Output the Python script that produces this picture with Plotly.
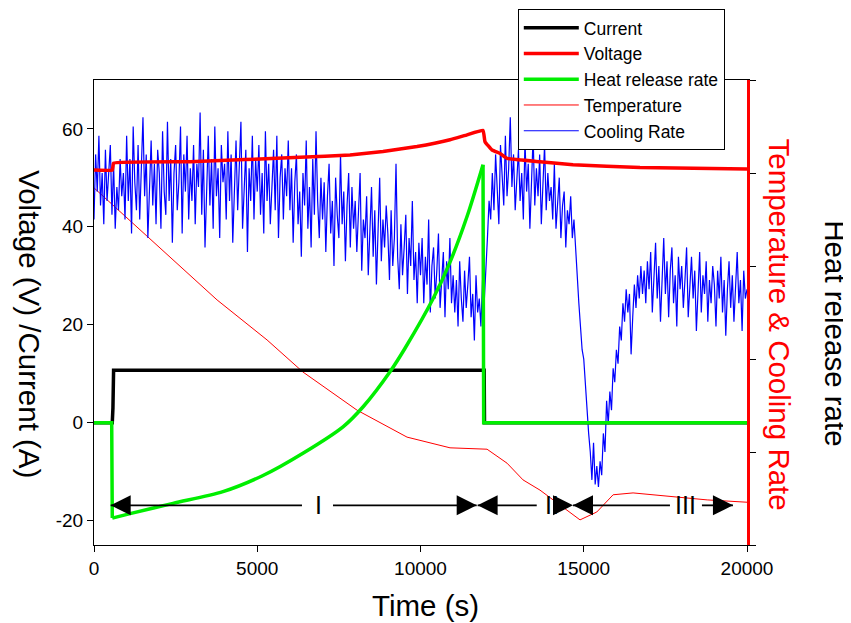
import plotly.graph_objects as go

# time axis (s)
t_current = [0, 560, 580, 600, 11950, 11960, 20000]
current = [0, 0, 3, 10.7, 10.7, 0, 0]

t_voltage = [0, 560, 600, 2940, 6310, 7841, 8852, 9893, 10904, 11425, 11915,
             11976, 12190, 12436, 12650, 13660, 14672, 16724, 20000]
voltage = [51.6, 51.6, 53.0, 53.3, 54.2, 54.7, 55.4, 56.4, 57.8, 58.8, 59.7,
           57.4, 55.7, 55.0, 54.0, 53.3, 52.7, 52.1, 51.8]

# heat release rate: rising branch while current flows, flat (zero) otherwise
t_heat = [560, 1103, 2420, 3950, 5176, 6412, 7636, 8250, 9066, 9526,
          10384, 10904, 11425, 11915]
heat = [-19.5, -18.6, -16.5, -14.1, -10.8, -6.2, -0.8, 3.3, 10.4, 15.2,
        25.3, 32.8, 42.1, 52.7]
t_heat_off = [0, 542, 560, None, 11915, 11935, 20000]
heat_off = [0, 0, -19.5, None, 52.7, 0, 0]

t_temp = [0, 1195, 2420, 3770, 5300, 6400, 8055, 9587, 10904, 12038, 12650,
          13140, 13660, 14490, 14886, 15400, 15900, 16510, 17730, 18780, 20000]
temperature = [76.8, 69.2, 61.3, 52.7, 44.1, 37.2, 29.0, 23.2, 20.9, 20.6, 17.6,
               14.0, 11.8, 7.5, 5.4, 7.1, 10.8, 11.2, 10.4, 9.7, 9.2]

t_cool = list(range(0, 20001, 50))
cooling = [
    70, 84, 76, 88, 73, 80, 69, 85, 74, 79, 86, 71, 82, 68, 77, 72, 83, 75, 80, 70,
    88, 74, 83, 67, 90, 78, 72, 86, 70, 81, 92, 75, 84, 66, 79, 87, 73, 82, 69, 85,
    80, 68, 89, 76, 71, 91, 74, 83, 65, 80, 86, 72, 78, 90, 67, 84, 76, 88, 70, 81,
    74, 86, 69, 82, 77, 93, 71, 85, 64, 79, 88, 73, 83, 68, 90, 75, 81, 66, 86, 78,
    82, 70, 89, 74, 84, 65, 79, 87, 72, 80, 91, 68, 77, 85, 63, 81, 74, 88, 70, 83,
    76, 86, 71, 80, 67, 89, 74, 82, 69, 78, 85, 72, 88, 66, 79, 84, 70, 81, 75, 87,
    72, 81, 65, 78, 84, 69, 76, 62, 80, 73, 87, 68, 77, 64, 83, 71, 89, 74, 66, 79,
    70, 78, 63, 75, 82, 67, 74, 60, 79, 71, 66, 84, 69, 76, 61, 73, 80, 64, 77, 68,
    74, 63, 71, 80, 59, 70, 66, 75, 58, 69, 77, 62, 72, 56, 67, 79, 61, 70, 64, 73,
    67, 57, 72, 60, 66, 82, 62, 55, 69, 58, 64, 71, 54, 66, 60, 74, 57, 63, 52, 65,
    58, 66, 52, 62, 56, 70, 50, 60, 64, 53, 59, 67, 51, 57, 63, 49, 61, 55, 66, 52,
    58, 50, 57, 47, 61, 53, 48, 59, 51, 56, 62, 49, 54, 44, 58, 50, 53, 47, 57, 52,
    58, 66, 74, 70, 80, 72, 84, 76, 69, 86, 78, 73, 88, 75, 81, 92, 77, 84, 72, 80,
    85, 74, 80, 70, 87, 76, 82, 68, 79, 88, 73, 81, 75, 84, 69, 78, 86, 72, 80, 74,
    77, 70, 82, 68, 75, 79, 66, 73, 76, 64, 72, 69, 75, 66, 70, 63, 58, 52, 47, 42,
    40, 34, 30, 24, 20, 14, 22, 13, 17, 12.5, 18, 15, 24, 20, 31, 26, 33, 29, 38, 35,
    42, 39, 47, 44, 52, 48, 55, 50, 54, 41, 49, 56, 51, 58, 53, 60, 54, 59, 52, 61,
    55, 63, 50, 58, 65, 53, 60, 48, 57, 66, 54, 61, 49, 59, 64, 52, 58, 47, 62, 55,
    60, 51, 57, 64, 49, 56, 62, 53, 59, 46, 55, 63, 50, 58, 54, 61, 48, 57, 52, 60,
    56, 47, 59, 53, 62, 50, 57, 45, 55, 61, 51, 58, 48, 56, 63, 52, 57, 46, 59, 53,
    55,
]

x_ticks = [0, 5000, 10000, 15000, 20000]
y_ticks = [-20, 0, 20, 40, 60]
y_ticktext = ["-20", "0", "20", "40", "60"]

# phase markers (stage I, II, III)
phase_labels = ["I", "II", "III"]
phase_label_x = [6890, 14030, 18130]
arrow_y = -16.9
# line pieces between arrow tips, broken where the labels sit
phase_lines = [(511, 6370), (7320, 11720), (11750, 13560), (14670, 17640), (18620, 19570)]
right_tips = [11720, 14670, 19570]
left_tips = [511, 11750, 14670]

FONT = "Arial, Liberation Sans, sans-serif"

fig = go.Figure()

fig.add_trace(go.Scatter(x=t_temp, y=temperature, name="Temperature", mode="lines",
                         line=dict(color="#ff0000", width=1), yaxis="y", legendrank=4))
fig.add_trace(go.Scatter(x=t_cool, y=cooling, name="Cooling Rate", mode="lines",
                         line=dict(color="#0000ff", width=1.2), yaxis="y", legendrank=5))
fig.add_trace(go.Scatter(x=t_voltage, y=voltage, name="Voltage", mode="lines",
                         line=dict(color="#ff0000", width=3.5, shape="spline", smoothing=0.3),
                         yaxis="y2", legendrank=2))
fig.add_trace(go.Scatter(x=t_current, y=current, name="Current", mode="lines",
                         line=dict(color="black", width=3.5), yaxis="y2", legendrank=1))
fig.add_trace(go.Scatter(x=t_heat_off, y=heat_off, name="Heat release rate", mode="lines",
                         line=dict(color="#00ee00", width=3.5), yaxis="y3",
                         legendgroup="heat", showlegend=False))
fig.add_trace(go.Scatter(x=t_heat, y=heat, name="Heat release rate", mode="lines",
                         line=dict(color="#00ee00", width=3.5, shape="spline", smoothing=0.8),
                         yaxis="y3", legendgroup="heat", legendrank=3))

shapes = []
for x0, x1 in phase_lines:
    shapes.append(dict(type="line", xref="x", yref="y2", x0=x0, x1=x1, y0=arrow_y, y1=arrow_y,
                       line=dict(color="black", width=1.8)))
for xt in right_tips:
    shapes.append(dict(type="path", xref="x", yref="y2", xsizemode="pixel", ysizemode="pixel",
                       xanchor=xt, yanchor=arrow_y, path="M0,0L-20,-10L-20,10Z",
                       fillcolor="black", line=dict(width=0)))
for xt in left_tips:
    shapes.append(dict(type="path", xref="x", yref="y2", xsizemode="pixel", ysizemode="pixel",
                       xanchor=xt, yanchor=arrow_y, path="M0,0L20,-10L20,10Z",
                       fillcolor="black", line=dict(width=0)))

annotations = []
for lab, xl in zip(phase_labels, phase_label_x):
    annotations.append(dict(x=xl, y=arrow_y, xref="x", yref="y2", text=lab, showarrow=False,
                            font=dict(family=FONT, size=25, color="black"),
                            xanchor="center", yanchor="middle"))

# axis titles, all written top-to-bottom
annotations += [
    dict(x=-0.098, y=0.475, xref="paper", yref="paper", text="Voltage (V) /Current (A)",
         textangle=90, showarrow=False, font=dict(family=FONT, size=29.5, color="black"),
         xanchor="center", yanchor="middle"),
    dict(x=1.05, y=0.475, xref="paper", yref="paper", text="Temperature & Cooling Rate",
         textangle=90, showarrow=False, font=dict(family=FONT, size=29.5, color="#ff0000"),
         xanchor="center", yanchor="middle"),
    dict(x=1.135, y=0.455, xref="paper", yref="paper", text="Heat release rate",
         textangle=90, showarrow=False, font=dict(family=FONT, size=29.5, color="black"),
         xanchor="center", yanchor="middle"),
    dict(x=0.507, y=-0.13, xref="paper", yref="paper", text="Time (s)",
         showarrow=False, font=dict(family=FONT, size=29.5, color="black"),
         xanchor="center", yanchor="middle"),
]

# the page body adds an 8 px margin, so the figure is sized to fill the rest
fig.update_layout(
    width=843, height=615,
    margin=dict(l=86, r=104, t=72, b=78, autoexpand=False),
    paper_bgcolor="white", plot_bgcolor="white",
    font=dict(family=FONT, size=19, color="black"),
    showlegend=True,
    legend=dict(x=0.649, y=1.153, xanchor="left", yanchor="top",
                bgcolor="white", bordercolor="black", borderwidth=1,
                font=dict(family=FONT, size=17.5), itemwidth=55,
                tracegroupgap=0),
    xaxis=dict(range=[0, 20000], tickvals=x_ticks, tickformat="d",
               ticks="outside", ticklen=6, tickcolor="black", showline=True,
               linecolor="black", linewidth=1, mirror=True, showgrid=False,
               zeroline=False, tickfont=dict(size=19)),
    yaxis=dict(range=[0, 100], tickvals=[0, 20, 40, 60, 80, 100], side="right",
               showticklabels=False, ticks="outside", ticklen=6, tickcolor="black",
               showline=True, linecolor="#ff0000", linewidth=3, showgrid=False,
               zeroline=False),
    yaxis2=dict(range=[-25, 70], tickvals=y_ticks, ticktext=y_ticktext, overlaying="y",
                side="left", ticks="outside", ticklen=6, tickcolor="black",
                showline=True, linecolor="black", linewidth=1, showgrid=False,
                zeroline=False, tickfont=dict(size=19)),
    yaxis3=dict(range=[-25, 70], overlaying="y", visible=False, showgrid=False,
                zeroline=False),
    shapes=shapes,
    annotations=annotations,
)

fig.write_html("out.html")
